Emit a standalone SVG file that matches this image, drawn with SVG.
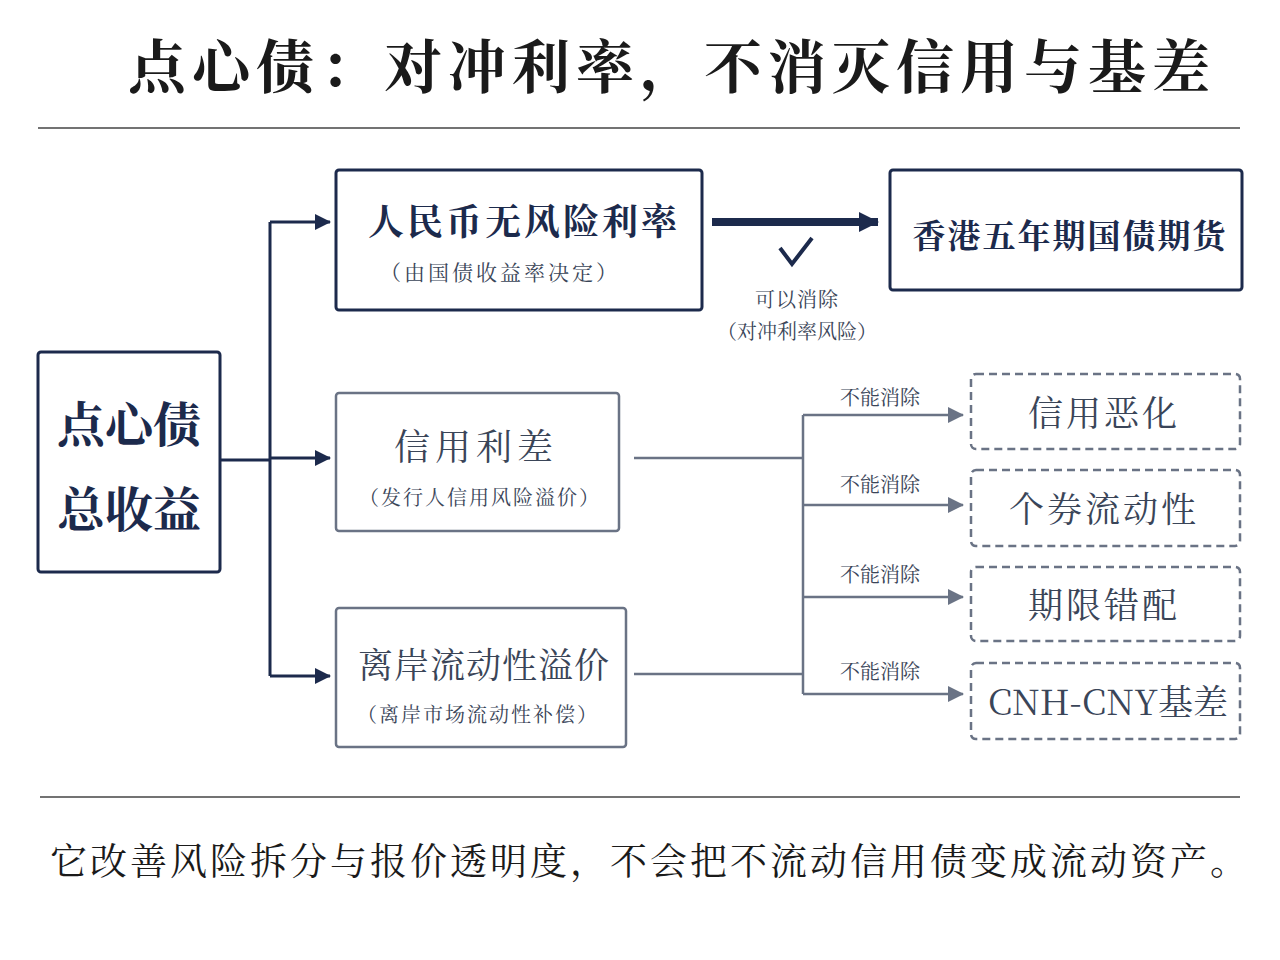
<svg xmlns="http://www.w3.org/2000/svg" width="1280" height="960" viewBox="0 0 1280 960">
<style>
text{font-family:"Noto Serif CJK SC","Noto Sans CJK SC",sans-serif;text-anchor:middle}
.dark{fill:#fff;stroke:#1c2a4c;stroke-width:3}
.gray{fill:#fff;stroke:#6a7385;stroke-width:2.5}
.dash{fill:#fff;stroke:#6a7385;stroke-width:2.5;stroke-dasharray:8 5}
.t1{fill:#1c2a4c;font-weight:bold}
.t2{fill:#3a4558}
.lab{fill:#3a4558;font-size:20px}
</style>
<defs>
<marker id="ab" markerWidth="20" markerHeight="20" refX="19" refY="10" orient="auto" markerUnits="userSpaceOnUse" viewBox="0 0 20 20"><path d="M0,0L20,10L0,20z" fill="#1c2a4c"/></marker>
<marker id="ag" markerWidth="16" markerHeight="16" refX="15" refY="8" orient="auto" markerUnits="userSpaceOnUse" viewBox="0 0 16 16"><path d="M0,0L16,8L0,16z" fill="#6a7385"/></marker>
<marker id="an" markerWidth="16" markerHeight="16" refX="15" refY="8" orient="auto" markerUnits="userSpaceOnUse" viewBox="0 0 16 16"><path d="M0,0L16,8L0,16z" fill="#1c2a4c"/></marker>
</defs>
<rect width="1280" height="960" fill="#fff"/>
<text x="672" y="88" style="font-size:58px;font-weight:bold;fill:#1a1a1a;letter-spacing:6px">点心债：对冲利率，不消灭信用与基差</text>
<line x1="38" y1="128" x2="1240" y2="128" stroke="#444" stroke-width="1.5"/>
<line x1="40" y1="797" x2="1240" y2="797" stroke="#444" stroke-width="1.5"/>
<text x="650" y="875" style="font-size:37px;fill:#1a1a1a;letter-spacing:3px">它改善风险拆分与报价透明度，不会把不流动信用债变成流动资产。</text>
<g id="connectors" fill="none">
<path d="M220,460H270" stroke="#1c2a4c" stroke-width="3"/>
<path d="M270,222V676" stroke="#1c2a4c" stroke-width="3"/>
<path d="M270,222H330" stroke="#1c2a4c" stroke-width="3" marker-end="url(#an)"/>
<path d="M270,458H330" stroke="#1c2a4c" stroke-width="3" marker-end="url(#an)"/>
<path d="M270,676H330" stroke="#1c2a4c" stroke-width="3" marker-end="url(#an)"/>
<path d="M712,222H878" stroke="#1c2a4c" stroke-width="8" marker-end="url(#ab)"/>
<path d="M780,248L792,264L812,238" stroke="#1c2a4c" stroke-width="4"/>
<path d="M634,458H803M634,674H803M803,415V694" stroke="#6a7385" stroke-width="2.5"/>
<path d="M803,415H963" stroke="#6a7385" stroke-width="2.5" marker-end="url(#ag)"/>
<path d="M803,505H963" stroke="#6a7385" stroke-width="2.5" marker-end="url(#ag)"/>
<path d="M803,597H963" stroke="#6a7385" stroke-width="2.5" marker-end="url(#ag)"/>
<path d="M803,694H963" stroke="#6a7385" stroke-width="2.5" marker-end="url(#ag)"/>
<text class="lab" x="797" y="307" stroke="none" style="letter-spacing:1px">可以消除</text>
<text class="lab" x="797" y="339" stroke="none">（对冲利率风险）</text>
<text class="lab" x="880" y="405" stroke="none">不能消除</text>
<text class="lab" x="880" y="492" stroke="none">不能消除</text>
<text class="lab" x="880" y="582" stroke="none">不能消除</text>
<text class="lab" x="880" y="679" stroke="none">不能消除</text>
</g>
<g id="n-total"><rect class="dark" x="38" y="352" width="182" height="220" rx="3"/>
<text class="t1" x="129" y="442" font-size="48">点心债</text><text class="t1" x="129" y="527" font-size="48">总收益</text></g>
<g id="n-rf"><rect class="dark" x="336" y="170" width="366" height="140" rx="3"/>
<text class="t1" x="524" y="235" font-size="36" style="letter-spacing:3px">人民币无风险利率</text><text class="t2" x="500" y="280" font-size="21" style="letter-spacing:3px">（由国债收益率决定）</text></g>
<g id="n-fut"><rect class="dark" x="890" y="170" width="352" height="120" rx="3"/>
<text class="t1" x="1070" y="248" font-size="33" style="letter-spacing:2px">香港五年期国债期货</text></g>
<g id="n-credit"><rect class="gray" x="336" y="393" width="283" height="138" rx="3"/>
<text class="t2" x="476" y="460" font-size="36" style="letter-spacing:5px">信用利差</text><text class="t2" x="480" y="505" font-size="20" style="letter-spacing:2px">（发行人信用风险溢价）</text></g>
<g id="n-liq"><rect class="gray" x="336" y="608" width="290" height="139" rx="3"/>
<text class="t2" x="484" y="678" font-size="35" style="letter-spacing:1px">离岸流动性溢价</text><text class="t2" x="478" y="722" font-size="20" style="letter-spacing:2px">（离岸市场流动性补偿）</text></g>
<g id="n-d1"><rect class="dash" x="971" y="374" width="269" height="75" rx="5"/><text class="t2" x="1104" y="426" font-size="35" style="letter-spacing:3px">信用恶化</text></g>
<g id="n-d2"><rect class="dash" x="971" y="470" width="269" height="76" rx="5"/><text class="t2" x="1104" y="522" font-size="35" style="letter-spacing:3px">个券流动性</text></g>
<g id="n-d3"><rect class="dash" x="971" y="567" width="269" height="74" rx="5"/><text class="t2" x="1104" y="618" font-size="35" style="letter-spacing:3px">期限错配</text></g>
<g id="n-d4"><rect class="dash" x="971" y="663" width="269" height="76" rx="5"/><text class="t2" x="1108" y="715" font-size="35">CNH-CNY基差</text></g>
</svg>
